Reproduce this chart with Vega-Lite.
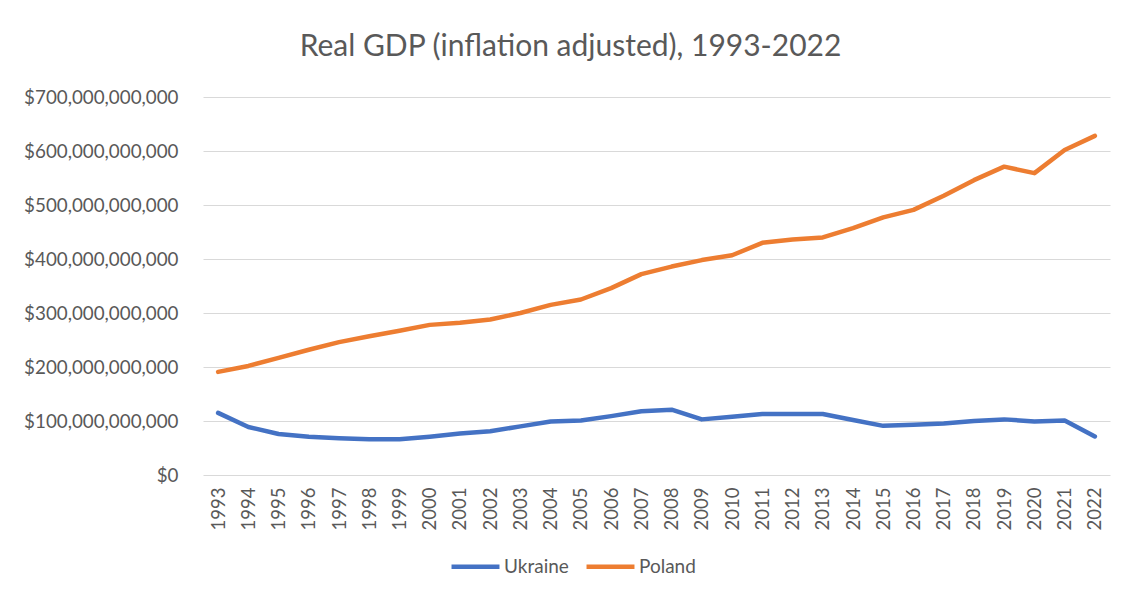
{
  "$schema": "https://vega.github.io/schema/vega-lite/v6.json",
  "autosize": "none",
  "width": 907,
  "height": 378,
  "padding": {"left": 203, "top": 97, "right": 12, "bottom": 120},
  "background": "white",
  "title": {
    "text": "Real GDP (inflation adjusted), 1993-2022",
    "anchor": "middle",
    "frame": "group",
    "dx": -86,
    "offset": 26,
    "font": "Lato",
    "fontSize": 30,
    "fontWeight": "normal",
    "color": "#595959"
  },
  "data": {
    "values": [
      {"year": "1993", "country": "Ukraine", "gdp": 115000000000},
      {"year": "1994", "country": "Ukraine", "gdp": 89000000000},
      {"year": "1995", "country": "Ukraine", "gdp": 76000000000},
      {"year": "1996", "country": "Ukraine", "gdp": 71000000000},
      {"year": "1997", "country": "Ukraine", "gdp": 68000000000},
      {"year": "1998", "country": "Ukraine", "gdp": 66000000000},
      {"year": "1999", "country": "Ukraine", "gdp": 66000000000},
      {"year": "2000", "country": "Ukraine", "gdp": 71000000000},
      {"year": "2001", "country": "Ukraine", "gdp": 77000000000},
      {"year": "2002", "country": "Ukraine", "gdp": 81000000000},
      {"year": "2003", "country": "Ukraine", "gdp": 90000000000},
      {"year": "2004", "country": "Ukraine", "gdp": 99000000000},
      {"year": "2005", "country": "Ukraine", "gdp": 101000000000},
      {"year": "2006", "country": "Ukraine", "gdp": 109000000000},
      {"year": "2007", "country": "Ukraine", "gdp": 118000000000},
      {"year": "2008", "country": "Ukraine", "gdp": 121000000000},
      {"year": "2009", "country": "Ukraine", "gdp": 103000000000},
      {"year": "2010", "country": "Ukraine", "gdp": 108000000000},
      {"year": "2011", "country": "Ukraine", "gdp": 113000000000},
      {"year": "2012", "country": "Ukraine", "gdp": 113000000000},
      {"year": "2013", "country": "Ukraine", "gdp": 113000000000},
      {"year": "2014", "country": "Ukraine", "gdp": 102000000000},
      {"year": "2015", "country": "Ukraine", "gdp": 91000000000},
      {"year": "2016", "country": "Ukraine", "gdp": 93000000000},
      {"year": "2017", "country": "Ukraine", "gdp": 95500000000},
      {"year": "2018", "country": "Ukraine", "gdp": 100000000000},
      {"year": "2019", "country": "Ukraine", "gdp": 103000000000},
      {"year": "2020", "country": "Ukraine", "gdp": 99000000000},
      {"year": "2021", "country": "Ukraine", "gdp": 101000000000},
      {"year": "2022", "country": "Ukraine", "gdp": 71500000000},
      {"year": "1993", "country": "Poland", "gdp": 191000000000},
      {"year": "1994", "country": "Poland", "gdp": 202000000000},
      {"year": "1995", "country": "Poland", "gdp": 217000000000},
      {"year": "1996", "country": "Poland", "gdp": 232000000000},
      {"year": "1997", "country": "Poland", "gdp": 246000000000},
      {"year": "1998", "country": "Poland", "gdp": 257000000000},
      {"year": "1999", "country": "Poland", "gdp": 267000000000},
      {"year": "2000", "country": "Poland", "gdp": 278000000000},
      {"year": "2001", "country": "Poland", "gdp": 282000000000},
      {"year": "2002", "country": "Poland", "gdp": 288000000000},
      {"year": "2003", "country": "Poland", "gdp": 300000000000},
      {"year": "2004", "country": "Poland", "gdp": 315000000000},
      {"year": "2005", "country": "Poland", "gdp": 325000000000},
      {"year": "2006", "country": "Poland", "gdp": 346000000000},
      {"year": "2007", "country": "Poland", "gdp": 372000000000},
      {"year": "2008", "country": "Poland", "gdp": 386000000000},
      {"year": "2009", "country": "Poland", "gdp": 398000000000},
      {"year": "2010", "country": "Poland", "gdp": 407000000000},
      {"year": "2011", "country": "Poland", "gdp": 430000000000},
      {"year": "2012", "country": "Poland", "gdp": 436000000000},
      {"year": "2013", "country": "Poland", "gdp": 440000000000},
      {"year": "2014", "country": "Poland", "gdp": 457000000000},
      {"year": "2015", "country": "Poland", "gdp": 477000000000},
      {"year": "2016", "country": "Poland", "gdp": 491000000000},
      {"year": "2017", "country": "Poland", "gdp": 517000000000},
      {"year": "2018", "country": "Poland", "gdp": 546000000000},
      {"year": "2019", "country": "Poland", "gdp": 571000000000},
      {"year": "2020", "country": "Poland", "gdp": 559000000000},
      {"year": "2021", "country": "Poland", "gdp": 602000000000},
      {"year": "2022", "country": "Poland", "gdp": 628000000000}
    ]
  },
  "mark": {"type": "line", "strokeWidth": 4.5, "strokeCap": "round", "strokeJoin": "round"},
  "encoding": {
    "x": {
      "field": "year",
      "type": "ordinal",
      "scale": {"type": "point", "padding": 0.5},
      "axis": {
        "title": null,
        "labelAngle": -90,
        "labelAlign": "right",
        "labelBaseline": "middle",
        "labelPadding": 12,
        "labelFont": "Lato",
        "labelFontSize": 18.5,
        "labelColor": "#595959",
        "ticks": false,
        "domain": false,
        "grid": false
      }
    },
    "y": {
      "field": "gdp",
      "type": "quantitative",
      "scale": {"domain": [0, 700000000000], "nice": false},
      "axis": {
        "title": null,
        "values": [0, 100000000000, 200000000000, 300000000000, 400000000000, 500000000000, 600000000000, 700000000000],
        "format": "$,.0f",
        "labelFont": "Lato",
        "labelFontSize": 18.8,
        "labelColor": "#595959",
        "labelPadding": 25,
        "ticks": false,
        "domain": false,
        "grid": true,
        "gridColor": "#D9D9D9",
        "gridWidth": 1.2
      }
    },
    "color": {
      "field": "country",
      "type": "nominal",
      "scale": {"domain": ["Ukraine", "Poland"], "range": ["#4472C4", "#ED7D31"]},
      "legend": {
        "title": null,
        "orient": "none",
        "direction": "horizontal",
        "legendX": 246,
        "legendY": 443,
        "symbolType": "stroke",
        "symbolSize": 2300,
        "symbolStrokeWidth": 4.5,
        "labelFont": "Lato",
        "labelFontSize": 19,
        "labelColor": "#595959",
        "labelOffset": 2,
        "columnPadding": 8
      }
    }
  },
  "config": {"view": {"stroke": null}}
}
